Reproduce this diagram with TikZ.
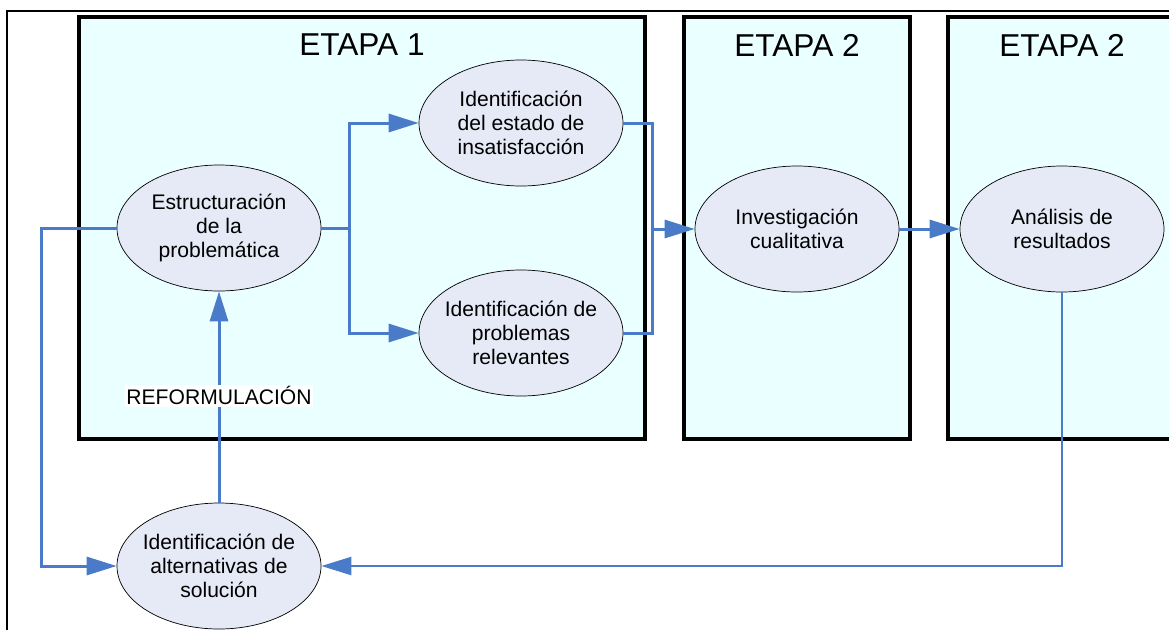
\documentclass[tikz,border=0pt]{standalone}
\usepackage{fontspec}
\setmainfont{Liberation Sans}
\usetikzlibrary{arrows.meta,shapes.geometric}
\definecolor{etapafill}{HTML}{EAFFFF}
\definecolor{nodofill}{HTML}{E6EAF6}
\definecolor{flecha}{HTML}{4A7BC8}

\begin{document}
\begin{tikzpicture}[line join=miter,
    etapa/.style={draw=black,line width=0.07cm,fill=etapafill},
    titulo/.style={font=\fontsize{18}{21}\selectfont},
    nodo/.style={ellipse,draw=black,line width=0.4pt,fill=nodofill,minimum width=4.08cm,minimum height=2.52cm,inner sep=-0.15cm,align=center,font=\fontsize{12}{13.6}\selectfont},
    link/.style={draw=flecha,line width=0.06cm},
    tip/.style={link,-{Triangle[length=0.6cm,width=0.36cm]}}]
    \useasboundingbox (0,0) rectangle (23.38,-12.58);
    \draw[line width=0.04cm] (0.14,-12.8) -- (0.14,-0.22) -- (23.6,-0.22);
    % etapas
    \draw[etapa] (1.58,-0.34) rectangle (12.9,-8.78);
    \draw[etapa] (13.68,-0.34) rectangle (18.2,-8.78);
    \draw[etapa] (18.96,-0.34) rectangle (23.6,-8.78);
    \node[titulo] (t1) at (7.24,-0.9) {ETAPA 1};
    \node[titulo] (t2) at (15.94,-0.9) {ETAPA 2};
    \node[titulo] (t3) at (21.24,-0.9) {ETAPA 2};
    % nodos
    \node[nodo] (estr) at (4.38,-4.56) {Estructuración\\de la\\problemática};
    \node[nodo] (insat) at (10.42,-2.46) {Identificación\\del estado de\\insatisfacción};
    \node[nodo] (relev) at (10.42,-6.66) {Identificación de\\problemas\\relevantes};
    \node[nodo] (invest) at (15.94,-4.58) {Investigación\\cualitativa};
    \node[nodo] (anal) at (21.24,-4.58) {Análisis de\\resultados};
    \node[nodo] (alter) at (4.38,-11.32) {Identificación de\\alternativas de\\solución};
    \coordinate (j1) at (6.98,-4.56);
    \coordinate (j2) at (13.04,-4.58);
    \coordinate (j3) at (0.82,-11.32);
    % flechas
    \draw[link] (estr.east) -- (j1);
    \draw[tip] (j1) |- (insat.west);
    \draw[tip] (j1) |- (relev.west);
    \draw[link] (insat.east) -| (j2);
    \draw[link] (relev.east) -| (j2);
    \draw[tip] (j2) -- (invest.west);
    \draw[tip] (invest.east) -- (anal.west);
    \draw[tip,line width=0.045cm] (anal.south) |- (alter.east);
    \draw[tip] (estr.west) -| (j3) -- (alter.west);
    \draw[tip] (alter.north) -- (estr.south) node[pos=0.505,fill=white,inner sep=1pt,font=\fontsize{12}{13.6}\selectfont] (reform) {REFORMULACIÓN};
\end{tikzpicture}
\end{document}
